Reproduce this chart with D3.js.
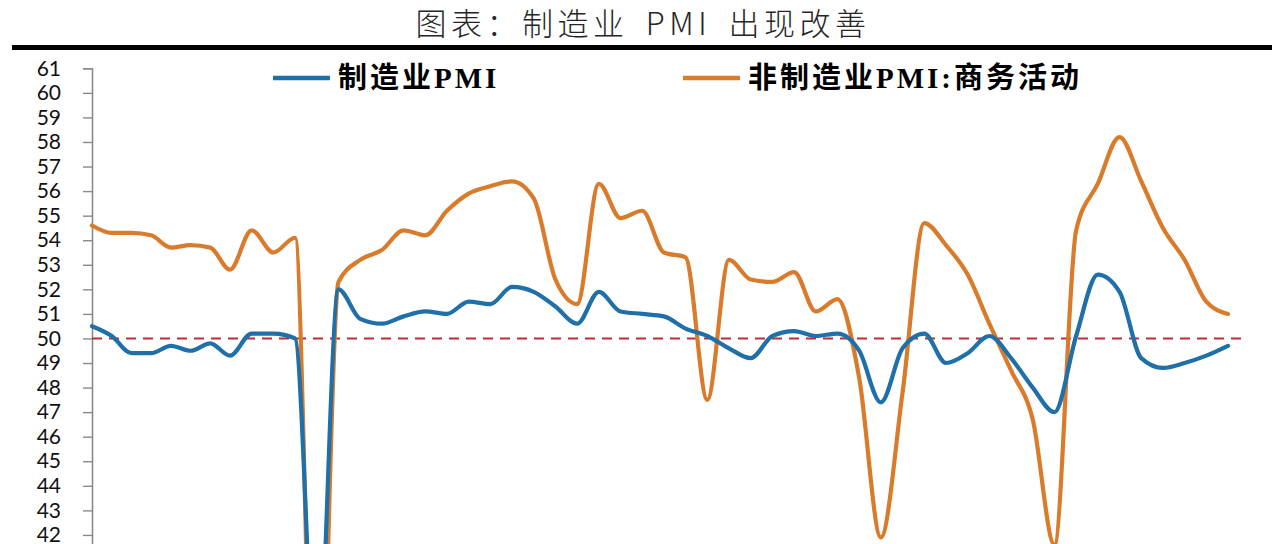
<!DOCTYPE html>
<html><head><meta charset="utf-8">
<script src="https://cdn.jsdelivr.net/npm/d3@7/dist/d3.min.js"></script>
<style>
html,body{margin:0;padding:0;background:#fff;}
svg{display:block;}
</style></head>
<body>
<svg id="chart" width="1280" height="544"></svg>
<script>
const months = ["2019-03","2019-04","2019-05","2019-06","2019-07","2019-08","2019-09","2019-10","2019-11","2019-12",
"2020-01","2020-02","2020-03","2020-04","2020-05","2020-06","2020-07","2020-08","2020-09","2020-10","2020-11","2020-12",
"2021-01","2021-02","2021-03","2021-04","2021-05","2021-06","2021-07","2021-08","2021-09","2021-10","2021-11","2021-12",
"2022-01","2022-02","2022-03","2022-04","2022-05","2022-06","2022-07","2022-08","2022-09","2022-10","2022-11","2022-12",
"2023-01","2023-02","2023-03","2023-04","2023-05","2023-06","2023-07","2023-08"];
const mfgPMI = [50.5,50.1,49.4,49.4,49.7,49.5,49.8,49.3,50.2,50.2,
50.0,35.7,52.0,50.8,50.6,50.9,51.1,51.0,51.5,51.4,52.1,51.9,
51.3,50.6,51.9,51.1,51.0,50.9,50.4,50.1,49.6,49.2,50.1,50.3,
50.1,50.2,49.5,47.4,49.6,50.2,49.0,49.4,50.1,49.2,48.0,47.0,
50.1,52.6,51.9,49.2,48.8,49.0,49.3,49.7];
const nonMfgPMI = [54.6,54.3,54.3,54.2,53.7,53.8,53.7,52.8,54.4,53.5,
54.1,29.6,52.3,53.2,53.6,54.4,54.2,55.2,55.9,56.2,56.4,55.7,
52.4,51.4,56.3,54.9,55.2,53.5,53.3,47.5,53.2,52.4,52.3,52.7,
51.1,51.6,48.4,41.9,47.8,54.7,53.8,52.6,50.6,48.7,46.7,41.6,
54.4,56.3,58.2,56.4,54.5,53.2,51.5,51.0];
const yTicks = d3.range(42, 62);
const refLine = 50;
const titleText = "图表：制造业 PMI 出现改善";
const seriesNames = ["制造业PMI", "非制造业PMI:商务活动"];
const colors = ["#1f6fa8", "#d97b2b"];

const svg = d3.select("#chart");

// title
svg.append("text").attr("x", 643).attr("y", 35).attr("text-anchor", "middle")
  .style("font-family", "'Noto Sans CJK SC', sans-serif").style("font-weight", 300)
  .style("font-size", "31px").style("letter-spacing", "4.5px").style("word-spacing", "6px")
  .attr("fill", "#262626").text(titleText);
svg.append("rect").attr("x", 12).attr("y", 45).attr("width", 1260).attr("height", 5).attr("fill", "#000");

const x = d3.scaleLinear().domain([0, 7, months.length - 1]).range([92, 230, 1228]);
const y = d3.scaleLinear().domain([29, 61]).range([68.3 + 32 * 24.56, 68.3]);

// y axis
const yAxis = d3.axisLeft(y).tickValues(yTicks).tickSize(9).tickPadding(22).tickFormat(d3.format("d"));
const gy = svg.append("g").attr("transform", "translate(92,0)").call(yAxis);
gy.select(".domain").attr("stroke", "#8a8a8a").attr("stroke-width", 1.6);
gy.selectAll(".tick line").attr("stroke", "#8a8a8a").attr("stroke-width", 1.4);
gy.selectAll(".tick text").attr("fill", "#111").style("font-family", "Lato, 'Open Sans', sans-serif")
  .style("font-size", "21px");

// reference line
svg.append("line").attr("x1", 92).attr("x2", 1247).attr("y1", y(refLine)).attr("y2", y(refLine))
  .attr("stroke", "#c42a33").attr("stroke-width", 2).attr("stroke-dasharray", "10,7");

const line = d3.line().x((d, i) => x(i)).y(d => y(d)).curve(d3.curveMonotoneX);
[nonMfgPMI, mfgPMI].forEach((s, k) => {
  svg.append("path").datum(s).attr("d", line).attr("fill", "none")
    .attr("stroke", k === 0 ? colors[1] : colors[0]).attr("stroke-width", 4.2)
    .attr("stroke-linejoin", "round").attr("stroke-linecap", "round");
});

// legend
const legendPos = [[273, 338], [683, 748]];
seriesNames.forEach((name, i) => {
  svg.append("line").attr("x1", legendPos[i][0]).attr("x2", legendPos[i][0] + 57)
    .attr("y1", 78).attr("y2", 78).attr("stroke", colors[i]).attr("stroke-width", 4.5);
  svg.append("text").attr("x", legendPos[i][1]).attr("y", 88)
    .style("font-family", "'Liberation Serif', 'Noto Sans CJK SC', serif").style("font-weight", 700)
    .style("font-size", "29px").style("letter-spacing", "3px").attr("fill", "#000").text(name);
});
</script>
</body></html>
